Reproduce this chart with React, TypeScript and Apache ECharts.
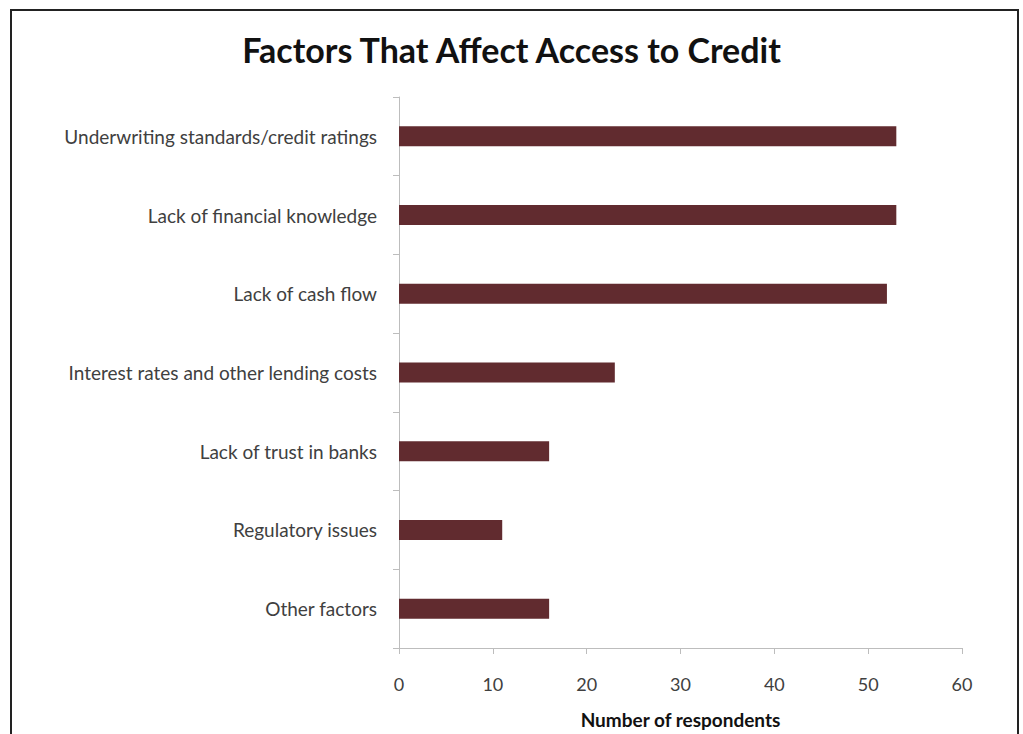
import React, { useEffect, useRef } from "react";
import * as echarts from "echarts";

const categories = [
  "Underwriting standards/credit ratings",
  "Lack of financial knowledge",
  "Lack of cash flow",
  "Interest rates and other lending costs",
  "Lack of trust in banks",
  "Regulatory issues",
  "Other factors",
];
const respondents = [53, 53, 52, 23, 16, 11, 16];
const xTicks = { min: 0, max: 60, interval: 10 };

export default function App() {
  const ref = useRef<HTMLDivElement>(null);
  useEffect(() => {
    const chart = echarts.init(ref.current!, null, { renderer: "svg" });
    const font = "Lato, 'Open Sans', sans-serif";
    chart.setOption({
      animation: false,
      backgroundColor: "#ffffff",
      textStyle: { fontFamily: font },
      title: {
        text: "Factors That Affect Access to Credit",
        left: "center",
        top: 27,
        textStyle: { fontFamily: font, fontSize: 34, fontWeight: "bold", color: "#111" },
      },
      graphic: [
        {
          type: "rect",
          shape: { x: 11, y: 10, width: 1007, height: 760 },
          style: { fill: "none", stroke: "#222", lineWidth: 2 },
          silent: true,
        },
      ],
      grid: { left: 399, right: 61, top: 97, bottom: 81, containLabel: false },
      xAxis: {
        type: "value",
        min: xTicks.min,
        max: xTicks.max,
        interval: xTicks.interval,
        name: "Number of respondents",
        nameLocation: "middle",
        nameGap: 62,
        nameTextStyle: { fontFamily: font, fontSize: 19, fontWeight: "bold", color: "#111" },
        axisLine: { show: true, lineStyle: { color: "#bdbdbd", width: 1 } },
        axisTick: { show: true, length: 6, lineStyle: { color: "#bdbdbd" } },
        axisLabel: { fontFamily: font, fontSize: 18, color: "#404040", margin: 27 },
        splitLine: { show: false },
      },
      yAxis: {
        type: "category",
        inverse: true,
        data: categories,
        axisLine: { show: true, lineStyle: { color: "#bdbdbd", width: 1 } },
        axisTick: { show: true, length: 6, lineStyle: { color: "#bdbdbd" } },
        axisLabel: { fontFamily: font, fontSize: 19, color: "#404040", margin: 22 },
        splitLine: { show: false },
      },
      series: [
        {
          type: "bar",
          data: respondents,
          barWidth: 20,
          itemStyle: { color: "#612b2f" },
        },
      ],
    });
    return () => chart.dispose();
  }, []);
  return (
    <div
      ref={ref}
      style={{ position: "fixed", left: 0, top: 0, width: 1023, height: 734 }}
    />
  );
}
